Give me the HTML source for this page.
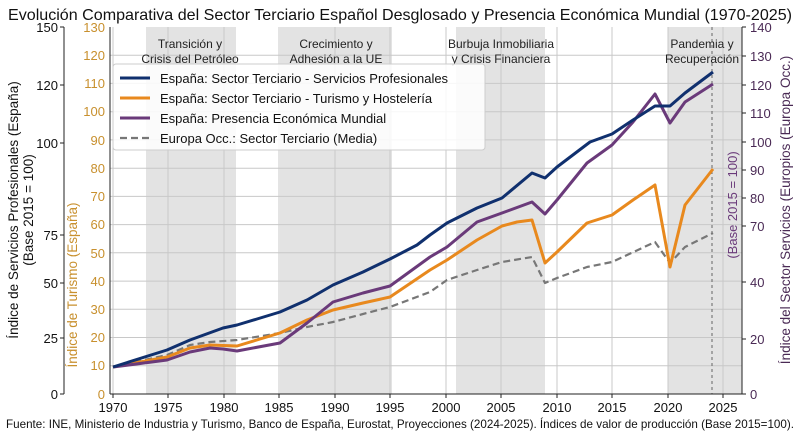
<!DOCTYPE html>
<html><head><meta charset="utf-8"><style>body{margin:0;background:#fff}svg{display:block}text{font-family:"Liberation Sans","DejaVu Sans",sans-serif}</style></head><body>
<svg width="800" height="436" viewBox="0 0 800 436">
<text x="8" y="20" font-size="16" fill="#111" textLength="784" lengthAdjust="spacingAndGlyphs">Evolución Comparativa del Sector Terciario Español Desglosado y Presencia Económica Mundial (1970-2025)</text>
<g fill="#e3e3e3">
<rect x="146" y="27" width="90" height="367"/>
<rect x="280" y="27" width="112" height="367"/>
<rect x="456" y="27" width="89" height="367"/>
<rect x="668" y="27" width="74" height="367"/>
</g>
<g stroke="#c8c8c8" stroke-width="1">
<line x1="110" x2="742" y1="55.2" y2="55.2"/><line x1="110" x2="742" y1="83.4" y2="83.4"/><line x1="110" x2="742" y1="111.7" y2="111.7"/><line x1="110" x2="742" y1="139.9" y2="139.9"/><line x1="110" x2="742" y1="168.2" y2="168.2"/><line x1="110" x2="742" y1="196.4" y2="196.4"/><line x1="110" x2="742" y1="224.6" y2="224.6"/><line x1="110" x2="742" y1="252.8" y2="252.8"/><line x1="110" x2="742" y1="281.1" y2="281.1"/><line x1="110" x2="742" y1="309.3" y2="309.3"/><line x1="110" x2="742" y1="337.5" y2="337.5"/><line x1="110" x2="742" y1="365.8" y2="365.8"/>
<line x1="113" x2="113" y1="27" y2="394"/><line x1="168" x2="168" y1="27" y2="394"/><line x1="224" x2="224" y1="27" y2="394"/><line x1="279" x2="279" y1="27" y2="394"/><line x1="335" x2="335" y1="27" y2="394"/><line x1="390" x2="390" y1="27" y2="394"/><line x1="446" x2="446" y1="27" y2="394"/><line x1="501" x2="501" y1="27" y2="394"/><line x1="557" x2="557" y1="27" y2="394"/><line x1="612" x2="612" y1="27" y2="394"/><line x1="668" x2="668" y1="27" y2="394"/><line x1="723" x2="723" y1="27" y2="394"/>
</g>
<line x1="712" x2="712" y1="27" y2="394" stroke="#666" stroke-dasharray="3,3"/>
<g font-size="12" fill="#222" text-anchor="middle">
<text x="190" y="48">Transición y</text><text x="190" y="63">Crisis del Petróleo</text>
<text x="336" y="48">Crecimiento y</text><text x="336" y="63">Adhesión a la UE</text>
<text x="501" y="48">Burbuja Inmobiliaria</text><text x="501" y="63">y Crisis Financiera</text>
<text x="702" y="48">Pandemia y</text><text x="702" y="63">Recuperación</text>
</g>
<g fill="none" stroke-linejoin="round">
<polyline stroke="#777" stroke-width="2.2" stroke-dasharray="7,4" points="113,367 167,355 190,345 210,342 237,340 280,333 307,327 333,322 363,314 390,307 430,292 447,280 477,270 502,262 532,257 545,283 557,278 587,267 612,262 655,242 670,263 685,247 713,233"/>
<polyline stroke="#e8891e" stroke-width="3" points="113,367 167,357 190,348 210,345 237,346 280,333 307,320 333,310 363,303 390,297 430,270 447,260 477,240 502,226 517,222 532,220 545,263 557,252 587,223 612,215 633,200 655,185 670,267 685,205 713,169"/>
<polyline stroke="#6a3a7a" stroke-width="3" points="113,367 167,360 190,352 210,348 223,349 237,351 280,343 307,323 333,302 363,293 390,286 430,257 447,247 477,222 502,213 532,202 545,214 557,200 587,163 612,145 633,122 655,94 670,123 685,102 713,84"/>
<polyline stroke="#10306e" stroke-width="3" points="113,367 167,350 190,340 223,328 237,325 257,319 280,312 307,300 333,285 363,272 390,259 417,245 430,235 447,223 477,208 502,198 532,173 545,178 557,167 590,142 612,134 633,120 655,106 670,106 685,93 713,72"/>
</g>
<rect x="113" y="64" width="372" height="86" rx="3" fill="#fff" fill-opacity="0.85" stroke="#ccc"/>
<g stroke-width="3">
<line x1="120" x2="150" y1="78" y2="78" stroke="#10306e"/>
<line x1="120" x2="150" y1="98" y2="98" stroke="#e8891e"/>
<line x1="120" x2="150" y1="118" y2="118" stroke="#6a3a7a"/>
<line x1="120" x2="150" y1="138" y2="138" stroke="#777" stroke-dasharray="7,4" stroke-width="2.2"/>
</g>
<g font-size="13" fill="#111">
<text x="160" y="83">España: Sector Terciario - Servicios Profesionales</text>
<text x="160" y="103">España: Sector Terciario - Turismo y Hostelería</text>
<text x="160" y="123">España: Presencia Económica Mundial</text>
<text x="160" y="143">Europa Occ.: Sector Terciario (Media)</text>
</g>
<g stroke="#222" stroke-width="1">
<line x1="110" x2="110" y1="27" y2="394"/>
<line x1="742" x2="742" y1="27" y2="394"/>
<line x1="110" x2="742" y1="394" y2="394"/>
<line x1="64" x2="64" y1="27" y2="394"/>
</g>
<g font-size="13" fill="#111" text-anchor="end">
<text x="58" y="32">150</text><line x1="64" x2="60" y1="27" y2="27" stroke="#222"/>
<text x="58" y="90">120</text><line x1="64" x2="60" y1="85" y2="85" stroke="#222"/>
<text x="58" y="148">100</text><line x1="64" x2="60" y1="143" y2="143" stroke="#222"/>
<text x="58" y="240">75</text><line x1="64" x2="60" y1="235" y2="235" stroke="#222"/>
<text x="58" y="288">50</text><line x1="64" x2="60" y1="283" y2="283" stroke="#222"/>
<text x="58" y="343">25</text><line x1="64" x2="60" y1="338" y2="338" stroke="#222"/>
<text x="58" y="399">0</text><line x1="64" x2="60" y1="394" y2="394" stroke="#222"/>
</g>
<g font-size="13" fill="#c8902e" text-anchor="end">
<text x="105" y="32">130</text><text x="105" y="60">120</text><text x="105" y="88">110</text><text x="105" y="116">100</text><text x="105" y="145">90</text><text x="105" y="173">80</text><text x="105" y="201">70</text><text x="105" y="229">60</text><text x="105" y="258">50</text><text x="105" y="286">40</text><text x="105" y="314">30</text><text x="105" y="342">20</text><text x="105" y="370">10</text><text x="105" y="399">0</text>
</g>
<text transform="translate(18,210) rotate(-90)" text-anchor="middle" font-size="13.5" fill="#111">Índice de Servicios Profesionales (España)</text>
<text transform="translate(33,210) rotate(-90)" text-anchor="middle" font-size="13.5" fill="#111">(Base 2015 = 100)</text>
<text transform="translate(77,285) rotate(-90)" text-anchor="middle" font-size="13.5" fill="#c8902e">Índice de Turismo (España)</text>
<g font-size="13" fill="#4a2a55">
<text x="750" y="32">140</text><text x="750" y="61">130</text><text x="750" y="90">120</text><text x="750" y="118">110</text><text x="750" y="147">100</text><text x="750" y="175">90</text><text x="750" y="203">80</text><text x="750" y="231">70</text><text x="750" y="287">40</text><text x="750" y="344">20</text><text x="750" y="399">0</text>
</g>
<g stroke="#222"><line x1="742" x2="746" y1="27" y2="27"/><line x1="742" x2="746" y1="56" y2="56"/><line x1="742" x2="746" y1="85" y2="85"/><line x1="742" x2="746" y1="113" y2="113"/><line x1="742" x2="746" y1="142" y2="142"/><line x1="742" x2="746" y1="170" y2="170"/><line x1="742" x2="746" y1="198" y2="198"/><line x1="742" x2="746" y1="226" y2="226"/><line x1="742" x2="746" y1="282" y2="282"/><line x1="742" x2="746" y1="339" y2="339"/><line x1="742" x2="746" y1="394" y2="394"/></g>
<text transform="translate(737,205) rotate(-90)" text-anchor="middle" font-size="13" fill="#6a3a7a">(Base 2015 = 100)</text>
<text transform="translate(790,210) rotate(-90)" text-anchor="middle" font-size="13.5" fill="#4a2a55">Índice del Sector Servicios (Europios (Europa Occ.)</text>
<g font-size="13" fill="#111" text-anchor="middle">
<text x="113" y="412">1970</text><text x="168" y="412">1975</text><text x="224" y="412">1980</text><text x="279" y="412">1985</text><text x="335" y="412">1990</text><text x="390" y="412">1995</text><text x="446" y="412">2000</text><text x="501" y="412">2005</text><text x="557" y="412">2010</text><text x="612" y="412">2015</text><text x="668" y="412">2020</text><text x="723" y="412">2025</text>
</g>
<g stroke="#222"><line x1="113" x2="113" y1="394" y2="398"/><line x1="168" x2="168" y1="394" y2="398"/><line x1="224" x2="224" y1="394" y2="398"/><line x1="279" x2="279" y1="394" y2="398"/><line x1="335" x2="335" y1="394" y2="398"/><line x1="390" x2="390" y1="394" y2="398"/><line x1="446" x2="446" y1="394" y2="398"/><line x1="501" x2="501" y1="394" y2="398"/><line x1="557" x2="557" y1="394" y2="398"/><line x1="612" x2="612" y1="394" y2="398"/><line x1="668" x2="668" y1="394" y2="398"/><line x1="723" x2="723" y1="394" y2="398"/></g>
<text x="6" y="428" font-size="12" fill="#111" textLength="788" lengthAdjust="spacingAndGlyphs">Fuente: INE, Ministerio de Industria y Turismo, Banco de España, Eurostat, Proyecciones (2024-2025). Índices de valor de producción (Base 2015=100).</text>
</svg>
</body></html>
